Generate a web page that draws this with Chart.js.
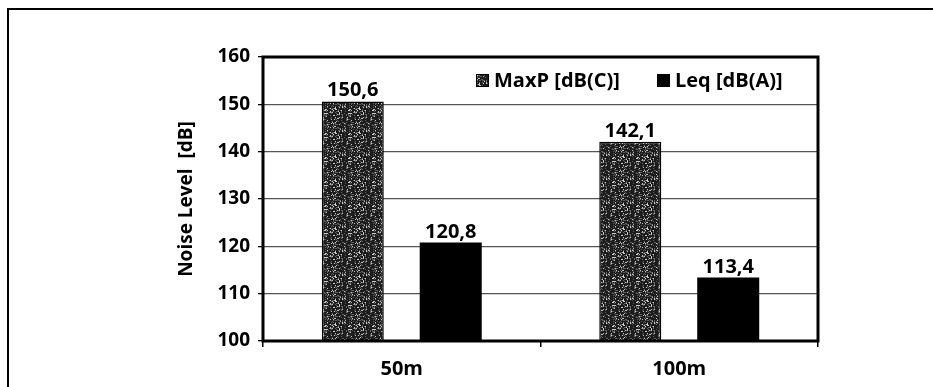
<!DOCTYPE html>
<html><head><meta charset="utf-8">
<script src="https://cdn.jsdelivr.net/npm/chart.js@4"></script>
<style>
html,body{margin:0;padding:0;background:#fff;overflow:hidden;width:933px;height:387px}
#frame{position:absolute;left:7px;top:8px;width:1000px;height:500px;border:2px solid #000;box-sizing:border-box}
#wrap{position:absolute;left:0;top:0;width:933px;height:387px}
</style></head><body>
<div id="frame"></div>
<div id="wrap"><canvas id="c" width="933" height="387"></canvas></div>
<script>
const categories = ['50m', '100m'];
const maxpValues = [150.6, 142.1];
const leqValues = [120.8, 113.4];
const seriesNames = ['MaxP [dB(C)]', 'Leq [dB(A)]'];
const yMin = 100, yMax = 160, yStep = 10;
const yTitle = 'Noise Level  [dB]';

const FONT = "'Open Sans', 'DejaVu Sans', sans-serif";

function makePattern() {
  const c = document.createElement('canvas');
  c.width = 24; c.height = 24;
  const x = c.getContext('2d');
  const img = x.createImageData(24, 24);
  for (let i = 0; i < 576; i++) {
    let h = Math.imul(i + 31, 2654435761) >>> 0;
    h ^= h >>> 15; h = Math.imul(h, 2246822519) >>> 0; h ^= h >>> 13;
    const r = h & 255;
    const v = r < 175 ? 28 : (r < 228 ? 95 : 200);
    img.data[i * 4] = v; img.data[i * 4 + 1] = v; img.data[i * 4 + 2] = v; img.data[i * 4 + 3] = 255;
  }
  x.putImageData(img, 0, 0);
  return x.createPattern(c, 'repeat');
}
const texture = makePattern();

const valueLabels = {
  id: 'valueLabels',
  afterDatasetsDraw(chart) {
    const ctx = chart.ctx;
    ctx.save();
    ctx.font = "bold 20px " + FONT;
    ctx.fillStyle = '#000';
    ctx.textAlign = 'center';
    ctx.textBaseline = 'alphabetic';
    chart.data.datasets.forEach((ds, di) => {
      chart.getDatasetMeta(di).data.forEach((el, i) => {
        ctx.fillText(ds.data[i].toFixed(1).replace('.', ','), el.x, el.y - 5);
      });
    });
    ctx.restore();
  }
};

const frameAndLegend = {
  id: 'frameAndLegend',
  afterDraw(chart) {
    const ctx = chart.ctx, a = chart.chartArea;
    ctx.save();
    ctx.strokeStyle = '#000';
    ctx.lineWidth = 3;
    ctx.strokeRect(a.left, a.top, a.right - a.left, a.bottom - a.top);
    ctx.font = "bold 20px " + FONT;
    ctx.textBaseline = 'middle';
    ctx.textAlign = 'left';
    const xs = [476, 657];
    const cy = a.top + 23;
    chart.data.datasets.forEach((ds, i) => {
      const bx = xs[i];
      ctx.fillStyle = ds.backgroundColor;
      ctx.fillRect(bx, cy - 6, 13, 13);
      ctx.lineWidth = 1;
      ctx.strokeStyle = '#000';
      ctx.strokeRect(bx + 0.5, cy - 5.5, 12, 12);
      ctx.fillStyle = '#000';
      ctx.fillText(ds.label, bx + 18, cy + 1);
    });
    ctx.restore();
  }
};

new Chart(document.getElementById('c'), {
  type: 'bar',
  data: {
    labels: categories,
    datasets: [
      { label: seriesNames[0], data: maxpValues, backgroundColor: texture, borderColor: '#000', borderWidth: 1.5,
        categoryPercentage: 0.706, barPercentage: 0.633 },
      { label: seriesNames[1], data: leqValues, backgroundColor: '#000', borderColor: '#000', borderWidth: 0,
        categoryPercentage: 0.706, barPercentage: 0.633 }
    ]
  },
  options: {
    responsive: false,
    animation: false,
    layout: { padding: { left: 171, top: 57, right: 115, bottom: 0 } },
    plugins: { legend: { display: false }, tooltip: { enabled: false } },
    scales: {
      x: {
        afterFit(s) { s.height = 46; },
        grid: { drawOnChartArea: false, drawTicks: true, tickLength: 6, color: '#000', lineWidth: 1.5 },
        border: { display: false },
        ticks: { color: '#000', font: { family: FONT, size: 20, weight: 'bold' }, padding: 10 }
      },
      y: {
        min: yMin, max: yMax,
        afterFit(s) { s.width = 92; },
        ticks: { stepSize: yStep, color: '#000', font: { family: FONT, size: 19, weight: 'bold' }, padding: 8 },
        grid: { color: '#555', lineWidth: 1.3, tickColor: '#000', tickLength: 5 },
        border: { display: false },
        title: { display: true, text: yTitle, color: '#000', font: { family: FONT, size: 19, weight: 'bold' }, padding: 4 }
      }
    }
  },
  plugins: [valueLabels, frameAndLegend]
});
</script>
</body></html>
